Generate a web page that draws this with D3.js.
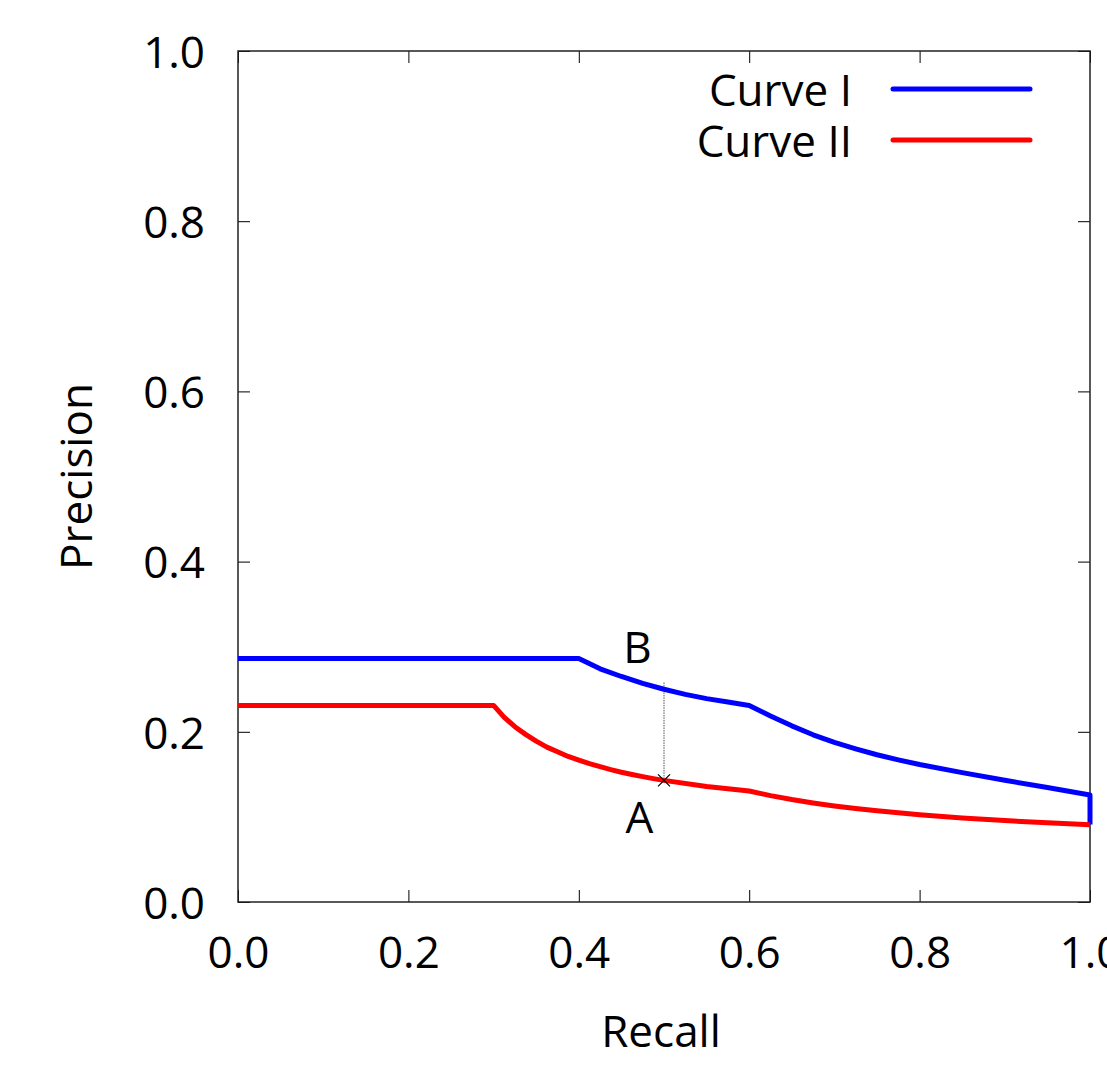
<!DOCTYPE html>
<html>
<head>
<meta charset="utf-8">
<script src="https://cdn.jsdelivr.net/npm/d3@7"></script>
<style>
  html, body { margin: 0; padding: 0; background: #fff; }
  svg { display: block; font-family: "Open Sans", "Noto Sans", sans-serif; }
</style>
</head>
<body>
<svg id="chart" width="1107" height="1071"></svg>
<script>
// Precision–recall curves
const seriesNames = ["Curve I", "Curve II"];
const seriesColors = ["#0000ff", "#ff0000"];

const recallI = [0, 0.4, 0.425, 0.45, 0.475, 0.5, 0.525, 0.55, 0.575, 0.6,
  0.625, 0.65, 0.675, 0.7, 0.725, 0.75, 0.775, 0.8, 0.85, 0.9, 0.95, 1.0, 1.0];
const precisionI = [0.286, 0.286, 0.274, 0.265, 0.257, 0.250, 0.244, 0.239, 0.235, 0.231,
  0.2185, 0.207, 0.1965, 0.1875, 0.180, 0.173, 0.167, 0.1615, 0.152, 0.143, 0.1345, 0.1257, 0.091];

const recallII = [0, 0.3, 0.3125, 0.325, 0.3375, 0.35, 0.3625, 0.375, 0.3875, 0.4,
  0.4125, 0.425, 0.4375, 0.45, 0.4625, 0.475, 0.4875, 0.5, 0.55, 0.6,
  0.625, 0.65, 0.675, 0.7, 0.725, 0.75, 0.8, 0.85, 0.9, 0.95, 1.0];
const precisionII = [0.231, 0.231, 0.217, 0.206, 0.197, 0.189, 0.182, 0.1765, 0.171, 0.1667,
  0.1626, 0.159, 0.1556, 0.1525, 0.1498, 0.1473, 0.145, 0.1429, 0.1358, 0.1304,
  0.125, 0.1204, 0.1164, 0.1129, 0.1098, 0.1071, 0.1026, 0.0988, 0.0957, 0.0931, 0.0909];

const tickValues = [0, 0.2, 0.4, 0.6, 0.8, 1.0];

// Annotation: gap between the curves at recall 0.5
const markRecall = 0.5;
const markLow = 0.143;
const markHigh = 0.258;
const pointLabels = [
  { text: "B", x: 0.469, y: 0.281 },
  { text: "A", x: 0.471, y: 0.081 }
];

(function draw() {
  const svg = d3.select("#chart");
  const pLeft = 238, pRight = 1090, pTop = 51, pBottom = 902;
  const x = d3.scaleLinear().domain([0, 1]).range([pLeft, pRight]);
  const y = d3.scaleLinear().domain([0, 1]).range([pBottom, pTop]);
  const fmt = d3.format(".1f");
  const fontSize = 44;

  function styleAxis(g) {
    g.select(".domain").remove();
    g.selectAll(".tick line").attr("stroke", "#000").attr("stroke-width", 1);
    g.selectAll(".tick text")
      .attr("fill", "#000")
      .style("font-size", fontSize + "px")
      .style("font-family", '"Open Sans", "Noto Sans", sans-serif');
  }

  svg.append("g")
    .attr("transform", `translate(0,${pBottom})`)
    .call(d3.axisBottom(x).tickValues(tickValues).tickFormat(fmt).tickSizeInner(-12).tickSizeOuter(0).tickPadding(35))
    .call(styleAxis);

  svg.append("g")
    .attr("transform", `translate(${pLeft},0)`)
    .call(d3.axisLeft(y).tickValues(tickValues).tickFormat(fmt).tickSizeInner(-12).tickSizeOuter(0).tickPadding(33))
    .call(styleAxis)
    .call(g => g.selectAll(".tick text").attr("dy", "0.37em"));

  svg.append("g")
    .attr("transform", `translate(0,${pTop})`)
    .call(d3.axisTop(x).tickValues(tickValues).tickFormat("").tickSizeInner(-12).tickSizeOuter(0))
    .call(styleAxis);

  svg.append("g")
    .attr("transform", `translate(${pRight},0)`)
    .call(d3.axisRight(y).tickValues(tickValues).tickFormat("").tickSizeInner(-12).tickSizeOuter(0))
    .call(styleAxis);

  // Plot frame
  svg.append("rect")
    .attr("x", pLeft).attr("y", pTop)
    .attr("width", pRight - pLeft).attr("height", pBottom - pTop)
    .attr("fill", "none").attr("stroke", "#222").attr("stroke-width", 1.5);

  // Axis titles
  svg.append("text")
    .attr("x", (pLeft + pRight) / 2 - 3).attr("y", 1047)
    .attr("text-anchor", "middle")
    .style("font-size", fontSize + "px")
    .text("Recall");

  svg.append("text")
    .attr("transform", `translate(92,${(pTop + pBottom) / 2}) rotate(-90)`)
    .attr("text-anchor", "middle")
    .style("font-size", fontSize + "px")
    .text("Precision");

  // Vertical gap marker
  svg.append("line")
    .attr("x1", x(markRecall)).attr("x2", x(markRecall))
    .attr("y1", y(markHigh)).attr("y2", y(markLow))
    .attr("stroke", "#555").attr("stroke-width", 1)
    .attr("stroke-dasharray", "1.5,1");

  // Curves
  const line = d3.line().x(d => x(d[0])).y(d => y(d[1]));
  const curves = [
    d3.zip(recallI, precisionI),
    d3.zip(recallII, precisionII)
  ];
  curves.forEach((pts, i) => {
    svg.append("path")
      .datum(pts)
      .attr("d", line)
      .attr("fill", "none")
      .attr("stroke", seriesColors[i])
      .attr("stroke-width", 5)
      .attr("stroke-linejoin", "round");
  });

  // Cross at point A
  const cx = x(markRecall), cy = y(markLow), cs = 6;
  svg.append("path")
    .attr("d", `M${cx - cs},${cy - cs}L${cx + cs},${cy + cs}M${cx - cs},${cy + cs}L${cx + cs},${cy - cs}`)
    .attr("stroke", "#000").attr("stroke-width", 1.2).attr("fill", "none");

  // Point labels
  svg.selectAll(".pt-label")
    .data(pointLabels)
    .join("text")
    .attr("class", "pt-label")
    .attr("x", d => x(d.x)).attr("y", d => y(d.y))
    .attr("text-anchor", "middle")
    .style("font-size", fontSize + "px")
    .text(d => d.text);

  // Legend
  const legend = svg.append("g");
  seriesNames.forEach((name, i) => {
    const ly = 89 + i * 51;
    legend.append("text")
      .attr("x", 852).attr("y", ly + 17)
      .attr("text-anchor", "end")
      .style("font-size", fontSize + "px")
      .text(name);
    legend.append("line")
      .attr("x1", 893).attr("x2", 1030)
      .attr("y1", ly).attr("y2", ly)
      .attr("stroke", seriesColors[i])
      .attr("stroke-width", 5)
      .attr("stroke-linecap", "round");
  });
})();
</script>
</body>
</html>
